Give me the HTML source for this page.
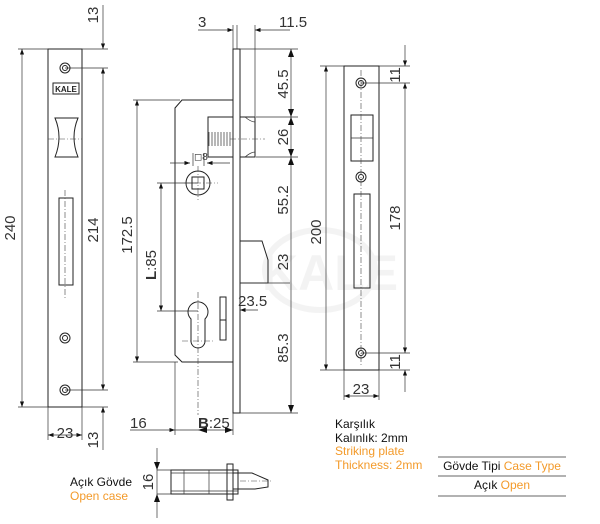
<!DOCTYPE html>
<html><head><meta charset="utf-8"><style>
html,body{margin:0;padding:0;background:#fff;}
svg{display:block;font-family:"Liberation Sans",sans-serif;}
.l{stroke:#222;stroke-width:1;fill:none}
.t{stroke:#333;stroke-width:0.7;fill:none}
.c{stroke:#444;stroke-width:0.6;fill:none;stroke-dasharray:6 2 1 2}
.d{font-size:15px;fill:#333}
.k{font-size:12px;fill:#111}
.o{font-size:12px;fill:#f39a2a}
</style></head><body>
<svg width="600" height="524" viewBox="0 0 600 524" xmlns="http://www.w3.org/2000/svg">
<defs><marker id="a" markerWidth="8" markerHeight="6" refX="8" refY="3" orient="auto-start-reverse"><path d="M0,0 L8,3 L0,6 z" fill="#111"/></marker></defs>

<!-- watermark -->
<g opacity="0.07" fill="none" stroke="#666" stroke-width="6">
<ellipse cx="320" cy="270" rx="55" ry="40"/>
<text x="262" y="290" font-size="50" font-weight="bold" fill="#666" stroke="none">KALE</text>
</g>

<!-- LEFT faceplate -->
<rect class="l" x="48" y="49" width="34" height="358"/>
<line class="t" x1="18" y1="49" x2="48" y2="49"/><line class="t" x1="18" y1="407" x2="48" y2="407"/>
<line class="t" x1="22" y1="49" x2="22" y2="407" marker-start="url(#a)" marker-end="url(#a)"/>
<text class="d" transform="translate(15,228) rotate(-90)" text-anchor="middle">240</text>
<line class="t" x1="82" y1="49" x2="108" y2="49"/><line class="t" x1="65" y1="68" x2="108" y2="68"/>
<line class="t" x1="65" y1="390" x2="108" y2="390"/><line class="t" x1="82" y1="407" x2="108" y2="407"/>
<line class="t" x1="103" y1="68" x2="103" y2="390" marker-start="url(#a)" marker-end="url(#a)"/>
<line class="t" x1="103" y1="5" x2="103" y2="49" marker-end="url(#a)"/>
<line class="t" x1="103" y1="450" x2="103" y2="407" marker-end="url(#a)"/>
<text class="d" transform="translate(98,230) rotate(-90)" text-anchor="middle">214</text>
<text class="d" transform="translate(98,15) rotate(-90)" text-anchor="middle">13</text>
<text class="d" transform="translate(98,440) rotate(-90)" text-anchor="middle">13</text>
<circle class="l" cx="65" cy="68" r="5"/><circle class="l" cx="65" cy="68" r="2.5"/>
<circle class="l" cx="65" cy="338" r="5"/><circle class="l" cx="65" cy="338" r="2.5"/>
<circle class="l" cx="65" cy="390" r="5"/><circle class="l" cx="65" cy="390" r="2.5"/>
<rect x="53" y="83" width="26" height="11" fill="#fff" stroke="#222"/>
<text x="66" y="92" font-size="8" font-weight="bold" text-anchor="middle" fill="#222">KALE</text>
<path class="l" d="M55,118 L78,118 Q70,137 78,157 L55,157 Q63,137 55,118 Z"/>
<line class="c" x1="48" y1="139" x2="82" y2="139"/>
<rect class="l" x="59" y="198" width="14" height="87"/>
<line class="c" x1="65" y1="190" x2="65" y2="300"/>
<line class="t" x1="48" y1="407" x2="48" y2="440"/><line class="t" x1="82" y1="407" x2="82" y2="440"/>
<line class="t" x1="48" y1="435" x2="82" y2="435" marker-start="url(#a)" marker-end="url(#a)"/>
<text class="d" x="65" y="438" text-anchor="middle">23</text>

<!-- MIDDLE lock body -->
<rect class="l" x="233" y="49" width="7" height="364"/>
<path class="l" d="M233,100 L182,100 L175,108 L175,355 L182,362 L233,362"/>
<line class="t" x1="133" y1="100" x2="180" y2="100"/>
<line class="t" x1="133" y1="362" x2="178" y2="362"/>
<line class="t" x1="137" y1="100" x2="137" y2="362" marker-start="url(#a)" marker-end="url(#a)"/>
<text class="d" transform="translate(132,235) rotate(-90)" text-anchor="middle">172.5</text>
<line class="t" x1="157" y1="183" x2="198" y2="183"/><line class="t" x1="157" y1="311" x2="198" y2="311"/>
<line class="t" x1="161" y1="183" x2="161" y2="311" marker-start="url(#a)" marker-end="url(#a)"/>
<text class="d" transform="translate(156,265) rotate(-90)" text-anchor="middle"><tspan font-weight="bold">L</tspan>:85</text>
<circle class="l" cx="198" cy="183" r="12"/><rect class="l" x="192" y="177" width="12" height="12"/>
<line class="c" x1="184" y1="183" x2="218" y2="183"/><line class="c" x1="198" y1="166" x2="198" y2="200"/>
<line class="t" x1="170" y1="163" x2="190" y2="163" marker-end="url(#a)"/>
<line class="t" x1="230" y1="163" x2="207" y2="163" marker-end="url(#a)"/>
<line class="t" x1="193" y1="153" x2="193" y2="166"/><line class="t" x1="204" y1="153" x2="204" y2="166"/>
<text x="194" y="160" font-size="10" fill="#333">◻8</text>
<!-- latch -->
<rect class="l" x="208" y="117" width="25" height="40"/>
<path class="t" d="M209,132 v14 M212,132 v14 M215,132 v14 M218,132 v14 M221,132 v14 M224,132 v14 M227,132 v14 M230,132 v14"/>
<path class="l" d="M240,117 L255,117 L255,157 L240,157"/>
<path class="t" d="M245,117 Q251,122 255,122 M245,157 Q251,152 255,152"/>
<line class="c" x1="230" y1="139" x2="265" y2="139"/>
<!-- cylinder -->
<path class="l" d="M191,319 A10,10 0 1 1 205,319 L205,341 A7,7 0 0 1 191,341 Z"/>
<line class="c" x1="198" y1="292" x2="198" y2="415"/>
<line class="c" x1="182" y1="341" x2="214" y2="341"/>
<path class="l" d="M220,297 L226,297 L226,340 L220,340 Z M220,320 L226,320"/>
<!-- deadbolt -->
<path class="l" d="M240,241 L262,241 L268,260 L268,283 L240,283"/>
<line class="t" x1="240" y1="283" x2="290" y2="283"/>
<line class="t" x1="258" y1="310" x2="240" y2="310" marker-end="url(#a)"/>
<text class="d" x="238" y="306">23.5</text>
<!-- right dims -->
<line class="t" x1="240" y1="49" x2="298" y2="49"/>
<line class="t" x1="256" y1="117" x2="298" y2="117"/>
<line class="t" x1="256" y1="157" x2="298" y2="157"/>
<line class="t" x1="240" y1="413" x2="298" y2="413"/>
<line class="t" x1="291" y1="49" x2="291" y2="413"/>
<path d="M288,57 L291,49 L294,57z M288,109 L291,117 L294,109z M288,125 L291,117 L294,125z M288,149 L291,157 L294,149z M288,165 L291,157 L294,165z M288,405 L291,413 L294,405z" fill="#111"/>
<text class="d" transform="translate(288,84) rotate(-90)" text-anchor="middle">45.5</text>
<text class="d" transform="translate(288,137) rotate(-90)" text-anchor="middle">26</text>
<text class="d" transform="translate(288,200) rotate(-90)" text-anchor="middle">55.2</text>
<text class="d" transform="translate(288,262) rotate(-90)" text-anchor="middle">23</text>
<text class="d" transform="translate(288,348) rotate(-90)" text-anchor="middle">85.3</text>
<!-- top dims -->
<line class="t" x1="233" y1="25" x2="233" y2="49"/><line class="t" x1="237" y1="25" x2="237" y2="49"/><line class="t" x1="255" y1="25" x2="255" y2="117"/>
<line class="t" x1="198" y1="30" x2="233" y2="30" marker-end="url(#a)"/>
<line class="t" x1="290" y1="30" x2="255" y2="30" marker-end="url(#a)"/>
<text class="d" x="198" y="27">3</text><text class="d" x="279" y="27">11.5</text>
<!-- bottom dims -->
<line class="t" x1="175" y1="362" x2="175" y2="435"/><line class="t" x1="233" y1="413" x2="233" y2="435"/>
<line class="t" x1="130" y1="430" x2="175" y2="430" marker-end="url(#a)"/>
<line class="t" x1="175" y1="430" x2="233" y2="430"/>
<path d="M207,427 L198,430 L207,433z M225,427 L233,430 L225,433z" fill="#111"/>
<text class="d" x="130" y="428">16</text>
<text class="d" x="198" y="428"><tspan font-weight="bold">B</tspan>:25</text>

<!-- RIGHT striking plate -->
<rect class="l" x="344" y="66" width="35" height="304"/>
<circle class="l" cx="361" cy="83" r="5"/><circle class="l" cx="361" cy="83" r="2.5"/>
<circle class="l" cx="361" cy="177" r="5"/><circle class="l" cx="361" cy="177" r="2.5"/>
<circle class="l" cx="361" cy="353" r="5"/><circle class="l" cx="361" cy="353" r="2.5"/>
<rect class="l" x="351" y="115" width="22" height="46"/><line class="t" x1="351" y1="138" x2="373" y2="138"/>
<rect class="l" x="354" y="194" width="16" height="94"/>
<line class="c" x1="361" y1="70" x2="361" y2="365"/>
<line class="t" x1="320" y1="66" x2="344" y2="66"/><line class="t" x1="320" y1="370" x2="344" y2="370"/>
<line class="t" x1="326" y1="66" x2="326" y2="370" marker-start="url(#a)" marker-end="url(#a)"/>
<text class="d" transform="translate(321,232) rotate(-90)" text-anchor="middle">200</text>
<line class="t" x1="379" y1="66" x2="410" y2="66"/><line class="t" x1="361" y1="83" x2="410" y2="83"/>
<line class="t" x1="361" y1="353" x2="410" y2="353"/><line class="t" x1="379" y1="370" x2="410" y2="370"/>
<line class="t" x1="405" y1="83" x2="405" y2="353" marker-start="url(#a)" marker-end="url(#a)"/>
<line class="t" x1="405" y1="45" x2="405" y2="66" marker-end="url(#a)"/>
<line class="t" x1="405" y1="392" x2="405" y2="370" marker-end="url(#a)"/>
<text class="d" transform="translate(400,218) rotate(-90)" text-anchor="middle">178</text>
<text class="d" transform="translate(400,75) rotate(-90)" text-anchor="middle">11</text>
<text class="d" transform="translate(400,362) rotate(-90)" text-anchor="middle">11</text>
<line class="t" x1="344" y1="370" x2="344" y2="400"/><line class="t" x1="379" y1="370" x2="379" y2="400"/>
<line class="t" x1="344" y1="396" x2="379" y2="396" marker-start="url(#a)" marker-end="url(#a)"/>
<text class="d" x="361" y="394" text-anchor="middle">23</text>

<!-- texts -->
<text class="k" x="335" y="428">Karşılık</text>
<text class="k" x="335" y="442">Kalınlık: 2mm</text>
<text class="o" x="335" y="455">Striking plate</text>
<text class="o" x="335" y="469">Thickness: 2mm</text>
<line class="t" x1="438" y1="457" x2="566" y2="457"/>
<line class="t" x1="438" y1="476" x2="566" y2="476"/>
<line class="t" x1="438" y1="496" x2="566" y2="496"/>
<text class="k" x="502" y="470" text-anchor="middle">Gövde Tipi <tspan fill="#f39a2a">Case Type</tspan></text>
<text class="k" x="502" y="489" text-anchor="middle">Açık <tspan fill="#f39a2a">Open</tspan></text>
<text class="k" x="70" y="486">Açık Gövde</text>
<text class="o" x="70" y="500">Open case</text>

<!-- small open case drawing -->
<line class="t" x1="157" y1="448" x2="157" y2="518"/>
<path d="M154,462 L157,470 L160,462z M154,502 L157,494 L160,502z" fill="#111"/>
<line class="t" x1="157" y1="470" x2="178" y2="470"/><line class="t" x1="157" y1="494" x2="178" y2="494"/>
<text class="d" transform="translate(153,482) rotate(-90)" text-anchor="middle">16</text>
<rect class="l" x="171" y="470" width="67" height="24"/>
<line class="t" x1="171" y1="473" x2="238" y2="473"/><line class="t" x1="171" y1="491" x2="238" y2="491"/>
<line class="t" x1="184" y1="470" x2="184" y2="494"/><line class="t" x1="209" y1="470" x2="209" y2="494"/>
<rect class="l" x="227" y="464" width="6" height="36"/>
<path class="l" d="M233,473 L252,473 L268,480 L268,487 L255,489 L233,489"/>
<line class="c" x1="240" y1="481" x2="272" y2="481"/>
</svg>
</body></html>
